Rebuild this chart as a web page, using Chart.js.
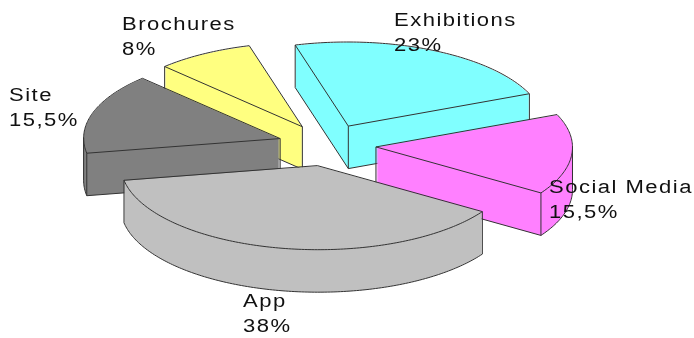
<!DOCTYPE html>
<html><head><meta charset="utf-8">
<style>html,body{margin:0;padding:0;background:#fff}canvas{display:block}</style>
<script src="https://cdn.jsdelivr.net/npm/chart.js@4/dist/chart.umd.min.js"></script>
</head><body><canvas id="c" width="694" height="338"></canvas>
<script>
const categories = ['App','Site','Brochures','Exhibitions','Social Media'];
const shares = [38,15.5,8,23,15.5];
const colours = ['#C0C0C0','#808080','#FFFF80','#80FFFF','#FF80FF'];
const paintOrder = ['Brochures','Exhibitions','Site','Social Media','App'];
const labelSpots = {
  'App':[243,307], 'Site':[9,101], 'Brochures':[122,30],
  'Exhibitions':[394,26], 'Social Media':[549,193]
};
const view = {cx:327, cy:145, ux:165, uy:46, vx:-106.8, vy:70.4, depth:42.5, explode:0.25};
const lineColour = '#333';

function pct(v){return String(v).replace('.',',')+'%';}

const pie3d = {
  id:'pie3d',
  beforeDatasetsDraw(chart){
    const ctx = chart.ctx, arcs = chart.getDatasetMeta(0).data;
    ctx.save();
    paintOrder.forEach(name=>{
      const arc = arcs[categories.indexOf(name)];
      const r = arc.outerRadius, mid=(arc.startAngle+arc.endAngle)/2;
      const ox = Math.cos(mid)*view.explode*r, oy = Math.sin(mid)*view.explode*r;
      const place = (dy)=>{
        ctx.setTransform(view.ux/r,view.uy/r,view.vx/r,view.vy/r,view.cx,view.cy+dy);
        ctx.translate(ox-arc.x, oy-arc.y);
      };
      // solid body, stacked from the bottom up using the library's arc
      for(let dy=view.depth;dy>=0;dy-=1){
        ctx.save(); place(dy); arc.draw(ctx); ctx.restore();
      }
      ctx.setTransform(1,0,0,1,0,0);
      // outline polygon in screen space
      const scr=(a,rad)=>{
        const x=rad*Math.cos(a)+ox, y=rad*Math.sin(a)+oy;
        return [view.cx+(view.ux*x+view.vx*y)/r, view.cy+(view.uy*x+view.vy*y)/r];
      };
      const pts=[scr(arc.startAngle,0)], n=Math.ceil((arc.endAngle-arc.startAngle)*60);
      for(let i=0;i<=n;i++) pts.push(scr(arc.startAngle+(arc.endAngle-arc.startAngle)*i/n,r));
      ctx.strokeStyle=lineColour; ctx.lineWidth=1; ctx.lineJoin='round';
      const m=pts.length, vis=[];
      for(let i=0;i<m;i++){const a=pts[i],b=pts[(i+1)%m]; vis.push(b[0]-a[0]<0);}
      ctx.beginPath();
      for(let i=0;i<m;i++){
        if(vis[i]){const a=pts[i],b=pts[(i+1)%m];
          ctx.moveTo(a[0],a[1]+view.depth); ctx.lineTo(b[0],b[1]+view.depth);}
      }
      const corners=[0,1,m-1];
      for(let i=0;i<m;i++){
        const before=vis[(i-1+m)%m], after=vis[i];
        if((before!==after)||(corners.includes(i)&&(before||after))){
          ctx.moveTo(pts[i][0],pts[i][1]); ctx.lineTo(pts[i][0],pts[i][1]+view.depth);
        }
      }
      ctx.stroke();
      ctx.beginPath();
      pts.forEach((p,i)=>i?ctx.lineTo(p[0],p[1]):ctx.moveTo(p[0],p[1]));
      ctx.closePath(); ctx.stroke();
    });
    // labels
    ctx.setTransform(1,0,0,1,0,0);
    ctx.fillStyle='#111';
    ctx.font='18px "Liberation Sans"';
    ctx.textBaseline='alphabetic';
    ctx.letterSpacing='1.2px';
    categories.forEach((name,i)=>{
      const [x,y]=labelSpots[name];
      [name,pct(shares[i])].forEach((t,j)=>{
        ctx.save(); ctx.translate(x,y+j*24.5); ctx.scale(1.225,1); ctx.fillText(t,0,0); ctx.restore();
      });
    });
    ctx.restore();
    return false;
  }
};

new Chart(document.getElementById('c'),{
  type:'pie',
  data:{labels:categories,datasets:[{data:shares,backgroundColor:colours,borderWidth:0,offset:0,hoverOffset:0}]},
  options:{responsive:false,animation:false,rotation:90,events:[],
    plugins:{legend:{display:false},tooltip:{enabled:false}}},
  plugins:[pie3d]
});
</script></body></html>
